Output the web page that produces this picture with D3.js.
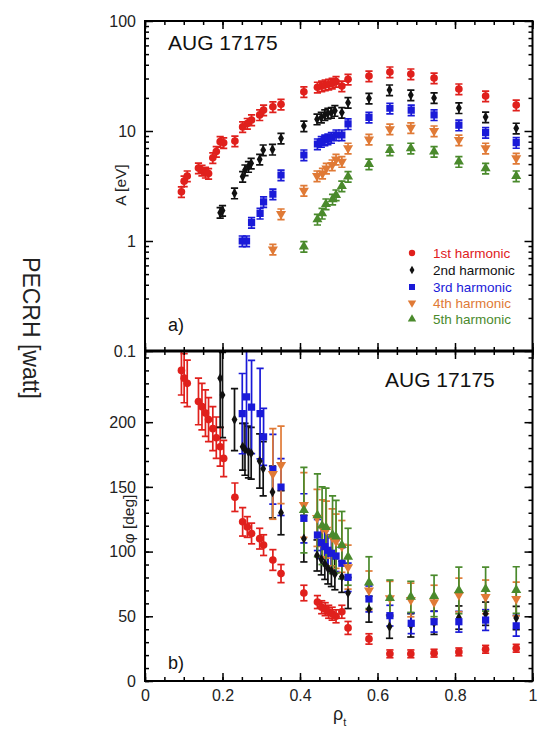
<!DOCTYPE html>
<html>
<head>
<meta charset="utf-8">
<script src="https://cdn.jsdelivr.net/npm/d3@7"></script>
<style>
  html, body { margin: 0; padding: 0; background: #fff; }
  svg { display: block; font-family: "Liberation Sans", Arial, sans-serif; }
</style>
</head>
<body>
<svg id="chart" width="545" height="734"></svg>
<script>
// Normalised radius rho_t of each channel, per harmonic
const rho1 = [0.094,0.101,0.109,0.138,0.147,0.156,0.164,0.175,0.184,0.194,0.203,0.232,0.252,0.264,0.275,0.296,0.306,0.330,0.351,0.410,0.445,0.456,0.465,0.474,0.483,0.493,0.508,0.524,0.578,0.632,0.686,0.746,0.810,0.879,0.958];
const rho2 = [0.194,0.200,0.231,0.252,0.258,0.267,0.274,0.296,0.305,0.329,0.351,0.410,0.444,0.455,0.464,0.472,0.481,0.490,0.508,0.524,0.578,0.631,0.686,0.746,0.810,0.879,0.958];
const rho3 = [0.251,0.262,0.275,0.297,0.306,0.330,0.351,0.410,0.445,0.455,0.464,0.472,0.481,0.493,0.508,0.524,0.578,0.632,0.687,0.746,0.810,0.879,0.958];
const rho4 = [0.330,0.351,0.410,0.444,0.458,0.468,0.483,0.493,0.508,0.524,0.578,0.632,0.686,0.746,0.810,0.879,0.958];
const rho5 = [0.410,0.445,0.457,0.467,0.484,0.493,0.508,0.524,0.578,0.632,0.686,0.746,0.810,0.879,0.958];

// Fourier amplitude A [eV]
const amp1 = [2.8,3.5,3.9,4.6,4.4,4.2,4.1,5.7,6.5,8.0,7.8,8.1,10.9,11.7,12.6,14.0,15.5,16.6,17.5,22.7,25.0,25.6,26.2,26.6,27.1,28.1,25.6,29.5,31.6,34.4,33.0,30.3,24.1,20.8,17.2];
const amp2 = [1.81,1.89,2.72,3.85,4.42,4.74,5.09,5.53,6.72,6.8,8.57,11.1,12.8,13.3,14.0,14.5,14.7,15.3,14.7,18.1,19.8,23.6,21.2,20.0,16.2,13.4,10.6];
const amp3 = [1.0,1.0,1.47,1.78,2.27,2.67,3.98,6.05,7.62,8.0,8.28,8.45,8.69,9.2,9.2,11.6,13.3,16.1,15.5,14.0,11.3,9.66,7.83];
const amp4 = [0.84,1.76,2.87,3.9,4.12,4.58,4.91,5.53,5.26,6.97,8.39,10.4,10.7,10.0,8.28,6.97,5.65];
const amp5 = [0.89,1.57,1.78,2.17,2.39,2.62,3.16,3.85,5.0,6.72,6.97,6.49,5.26,4.58,3.9];
// relative uncertainty of the amplitudes
const ampRelErr = 0.11;

// Fourier phase phi [deg] and its uncertainty
const ph1 = [240,234,230,216,212,207,202,195,188,181,172,142,123,119,114,110,105,93.5,83,68,61,57,55.5,53.5,52,50,53.5,41,32.5,21,21,21.5,22.5,24.5,25.3];
const phErr1 = [19,19,18,18,18,18,17,17,16,15,14,11,11,8,8,8,8,8,7,6,5,5,5,5,5,5,5,5,4,3,3,3,3,3,3];
const ph2 = [234,221,202,181,179,177,176,170,164,146,130,110,97,94,90.5,87,85,82.5,80.5,68,55.5,42,43,45,49,52,48.7];
const phErr2 = [38,33,24,18,20,20,20,21,21,20,17,18,12,12,12,12,12,12,12,12,10,9,9,9,9,9,9];
const ph3 = [206.6,219.5,211.7,206.6,188.6,163.6,149.9,125.7,112.8,106.9,103.8,101,98.7,96.6,91,80.1,63.4,50.5,44.6,45.8,45.8,47.1,42.7];
const phErr3 = [31,40,36,35,22,27,22,19,12,12,12,12,12,12,12,11,10,8,8,8,8,8,8];
const ph4 = [160,167,136,126,118,117,111,108,104,88,70,64,62.6,61,66.5,65,63.4];
const phErr4 = [35,30,25,22,22,22,22,21,20,17,15,13,13,13,13,13,13];
const ph5 = [132,128,120,119,113,111.5,105,96,76,64,65,65.7,70,71,70.3];
const phErr5 = [33,32,30,30,30,28,26,22,20,14,12,16,18,17,18];

const harmonicNames = ["1st harmonic","2nd harmonic","3rd harmonic","4th harmonic","5th harmonic"];
const harmonicColors = ["#e0201c","#111111","#1a1ad8","#e07a36","#4a8a2c"];
const harmonicSymbols = ["circle","diamond","square","triDown","triUp"];

// Axis ticks
const rhoMajor = [0,0.2,0.4,0.6,0.8,1];
const rhoMinor = d3.range(0,1.0001,0.05).map(v => +v.toFixed(2));
const ampMajor = [0.1,1,10,100];
const ampMinor = [0.1,1,10].flatMap(d => d3.range(2,10).map(k => +(d*k).toPrecision(2)));
const phMajor = [0,50,100,150,200];
const phMinor = d3.range(0,251,10);
const shotLabel = "AUG 17175";

const series = [
  {rho: rho1, amp: amp1, ph: ph1, phErr: phErr1},
  {rho: rho2, amp: amp2, ph: ph2, phErr: phErr2},
  {rho: rho3, amp: amp3, ph: ph3, phErr: phErr3},
  {rho: rho4, amp: amp4, ph: ph4, phErr: phErr4},
  {rho: rho5, amp: amp5, ph: ph5, phErr: phErr5}
].map((s, i) => ({...s, name: harmonicNames[i], color: harmonicColors[i], symbol: harmonicSymbols[i]}));

const svg = d3.select("#chart");
const plotL = 145, plotR = 532.5, plotT = 21, plotM = 351, plotB = 681;

const x = d3.scaleLinear().domain([0,1]).range([plotL,plotR]);
const yA = d3.scaleLog().domain([0.1,100]).range([plotM,plotT]);
const yP = d3.scaleLinear().domain([0,255]).range([plotB,plotM]);

const defs = svg.append("defs");
defs.append("clipPath").attr("id","clipA").append("rect")
  .attr("x",plotL).attr("y",plotT).attr("width",plotR-plotL).attr("height",plotM-plotT);
defs.append("clipPath").attr("id","clipP").append("rect")
  .attr("x",plotL).attr("y",plotM).attr("width",plotR-plotL).attr("height",plotB-plotM);

function symbolPath(kind, scale) {
  const s = scale || 1;
  if (kind === "circle") return d3.symbol(d3.symbolCircle, 46*s)();
  if (kind === "diamond") return d3.symbol(d3.symbolDiamond, 30*s)();
  if (kind === "square") return d3.symbol(d3.symbolSquare, 52*s)();
  return d3.symbol(d3.symbolTriangle, 44*s)();
}
function symbolTransform(kind, px, py) {
  return kind === "triDown" ? `translate(${px},${py}) rotate(180)` : `translate(${px},${py})`;
}

// error bars with caps
function errorBars(g, pts, color) {
  const cap = 3.6;
  const eb = g.append("g").attr("stroke", color).attr("stroke-width", 1.7).attr("fill","none");
  pts.forEach(p => {
    eb.append("line").attr("x1",p.x).attr("x2",p.x).attr("y1",p.y0).attr("y2",p.y1);
    eb.append("line").attr("x1",p.x-cap).attr("x2",p.x+cap).attr("y1",p.y0).attr("y2",p.y0);
    eb.append("line").attr("x1",p.x-cap).attr("x2",p.x+cap).attr("y1",p.y1).attr("y2",p.y1);
  });
}
function markers(g, pts, s) {
  g.append("g").selectAll("path").data(pts).join("path")
    .attr("d", symbolPath(s.symbol))
    .attr("transform", p => symbolTransform(s.symbol, p.x, p.y))
    .attr("fill", s.color);
}

// Panel a: amplitudes
const gA = svg.append("g").attr("clip-path","url(#clipA)");
const ampPts = series.map(s => s.rho.map((r,i) => ({
  x: x(r), y: yA(s.amp[i]),
  y0: yA(s.amp[i]*(1+ampRelErr)), y1: yA(s.amp[i]*(1-ampRelErr))
})));
series.forEach((s,k) => errorBars(gA, ampPts[k], s.color));
series.forEach((s,k) => markers(gA, ampPts[k], s));

// Panel b: phases
const gP = svg.append("g").attr("clip-path","url(#clipP)");
const phPts = series.map(s => s.rho.map((r,i) => ({
  x: x(r), y: yP(s.ph[i]),
  y0: yP(s.ph[i]+s.phErr[i]), y1: yP(s.ph[i]-s.phErr[i])
})));
series.forEach((s,k) => errorBars(gP, phPts[k], s.color));
series.forEach((s,k) => markers(gP, phPts[k], s));

// Axes: ticks all point into the panels
function tickAxis(axis, tf, vals, size, labels) {
  const g = svg.append("g").attr("transform", tf);
  axis.tickValues(vals).tickSize(-size).tickSizeOuter(0);
  if (!labels) axis.tickFormat("");
  g.call(axis);
  g.select(".domain").remove();
  g.selectAll(".tick line").attr("stroke","#000").attr("stroke-width",1.5);
  g.selectAll(".tick text").attr("font-size",16).attr("fill","#222")
    .attr("font-family",'"Liberation Sans", Arial, sans-serif');
  return g;
}
// bottom x axis of panel b
tickAxis(d3.axisBottom(x).tickPadding(9).tickFormat(d => d === 0 || d === 1 ? d3.format("d")(d) : d3.format(".1f")(d)),
  `translate(0,${plotB})`, rhoMajor, 8, true);
tickAxis(d3.axisBottom(x), `translate(0,${plotB})`, rhoMinor, 4, false);
// shared boundary between panels
tickAxis(d3.axisBottom(x), `translate(0,${plotM})`, rhoMajor, 8, false);
tickAxis(d3.axisBottom(x), `translate(0,${plotM})`, rhoMinor, 4, false);
tickAxis(d3.axisTop(x), `translate(0,${plotM})`, rhoMajor, 8, false);
tickAxis(d3.axisTop(x), `translate(0,${plotM})`, rhoMinor, 4, false);
// top of panel a
tickAxis(d3.axisTop(x), `translate(0,${plotT})`, rhoMajor, 8, false);
tickAxis(d3.axisTop(x), `translate(0,${plotT})`, rhoMinor, 4, false);
// amplitude axes
tickAxis(d3.axisLeft(yA).tickPadding(9).tickFormat(d => d < 1 ? "0.1" : d3.format("d")(d)),
  `translate(${plotL},0)`, ampMajor, 8, true);
tickAxis(d3.axisLeft(yA), `translate(${plotL},0)`, ampMinor, 4, false);
tickAxis(d3.axisRight(yA), `translate(${plotR},0)`, ampMajor, 8, false);
tickAxis(d3.axisRight(yA), `translate(${plotR},0)`, ampMinor, 4, false);
// phase axes
tickAxis(d3.axisLeft(yP).tickPadding(9).tickFormat(d3.format("d")), `translate(${plotL},0)`, phMajor, 8, true);
tickAxis(d3.axisLeft(yP), `translate(${plotL},0)`, phMinor, 4, false);
tickAxis(d3.axisRight(yP), `translate(${plotR},0)`, phMajor, 8, false);
tickAxis(d3.axisRight(yP), `translate(${plotR},0)`, phMinor, 4, false);

// frames
svg.append("rect").attr("x",plotL).attr("y",plotT).attr("width",plotR-plotL).attr("height",plotB-plotT)
  .attr("fill","none").attr("stroke","#000").attr("stroke-width",2);
svg.append("line").attr("x1",plotL).attr("x2",plotR).attr("y1",plotM).attr("y2",plotM)
  .attr("stroke","#000").attr("stroke-width",3);

// annotations
svg.append("text").attr("x",168).attr("y",50).attr("font-size",21).attr("fill","#111").text(shotLabel);
svg.append("text").attr("x",385).attr("y",387).attr("font-size",21).attr("fill","#111").text(shotLabel);
svg.append("text").attr("x",168).attr("y",331).attr("font-size",18).attr("fill","#111").text("a)");
svg.append("text").attr("x",168).attr("y",669).attr("font-size",18).attr("fill","#111").text("b)");

// axis titles
svg.append("text").attr("transform","translate(121,185) rotate(-90)").attr("dy","0.35em")
  .attr("text-anchor","middle").attr("font-size",15.5).attr("fill","#222").text("A [eV]");
svg.append("text").attr("transform","translate(129,519) rotate(-90)").attr("dy","0.35em")
  .attr("text-anchor","middle").attr("font-size",15.5).attr("fill","#222").text("φ [deg]");
svg.append("text").attr("transform","translate(31,328) rotate(90)").attr("dy","0.35em")
  .attr("text-anchor","middle").attr("font-size",23).attr("fill","#222").text("PECRH [watt]");
const xt = svg.append("text").attr("x",333).attr("y",720).attr("font-size",18).attr("fill","#222");
xt.append("tspan").text("ρ");
xt.append("tspan").attr("font-size",11).attr("dy",6).text("t");

// legend
const legRows = [253,270,287,303,319];
const leg = svg.append("g");
series.forEach((s,i) => {
  leg.append("path").attr("d", symbolPath(s.symbol, 0.7))
    .attr("transform", symbolTransform(s.symbol, 412, legRows[i])).attr("fill", s.color);
  leg.append("text").attr("x",433).attr("y",legRows[i]+4.8).attr("font-size",13.5)
    .attr("fill", s.color).text(s.name);
});
</script>
</body>
</html>
